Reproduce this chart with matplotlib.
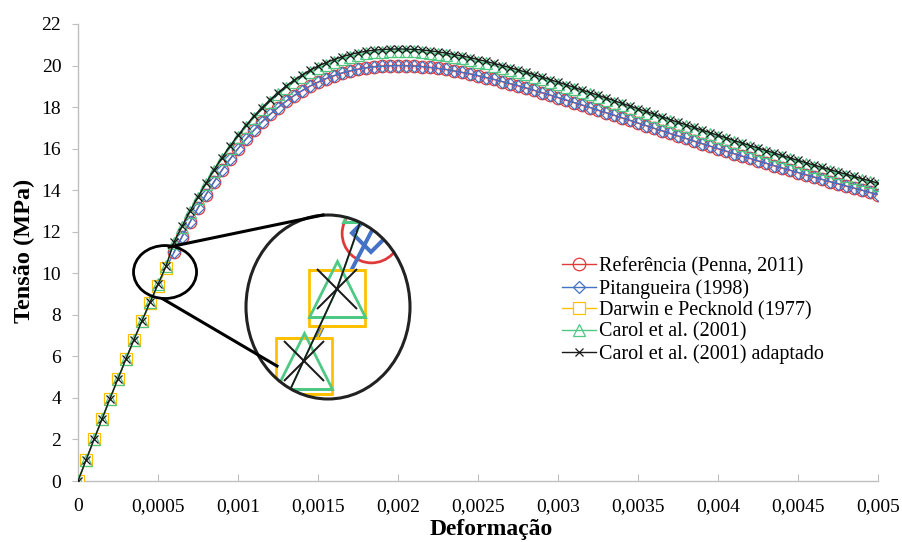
import numpy as np
import matplotlib
matplotlib.use("Agg")
import matplotlib.pyplot as plt
from matplotlib.patches import Ellipse
from matplotlib.lines import Line2D
from matplotlib.ticker import FuncFormatter

plt.rcParams["font.family"] = ["Liberation Serif", "DejaVu Serif"]

# strain step used by all series
STEP = 0.00005

# Referência (Penna, 2011): points from 0.0006 to 0.005
ref_start = 12
ref_stress = [
    11.01, 11.76, 12.47, 13.15, 13.79, 14.40, 14.97, 15.50, 16.00, 16.46,
    16.89, 17.29, 17.65, 17.98, 18.28, 18.55, 18.79, 19.01, 19.20, 19.37,
    19.51, 19.64, 19.74, 19.82, 19.89, 19.94, 19.97, 19.99, 20.00, 19.99,
    19.98, 19.95, 19.91, 19.86, 19.81, 19.74, 19.67, 19.60, 19.51, 19.42,
    19.33, 19.23, 19.13, 19.03, 18.92, 18.81, 18.69, 18.58, 18.46, 18.34,
    18.22, 18.10, 17.98, 17.85, 17.73, 17.61, 17.48, 17.36, 17.23, 17.11,
    16.98, 16.86, 16.73, 16.61, 16.49, 16.36, 16.24, 16.12, 16.00, 15.88,
    15.76, 15.64, 15.53, 15.41, 15.30, 15.18, 15.07, 14.96, 14.85, 14.74,
    14.63, 14.52, 14.41, 14.31, 14.20, 14.10, 14.00, 13.89, 13.79,
]

# Pitangueira (1998): full range 0 to 0.005
pit_stress = [
    0.00, 1.00, 2.00, 2.98, 3.96, 4.92, 5.87, 6.79, 7.69, 8.57,
    9.41, 10.23, 11.01, 11.76, 12.47, 13.15, 13.79, 14.40, 14.97, 15.50,
    16.00, 16.46, 16.89, 17.29, 17.65, 17.98, 18.28, 18.55, 18.79, 19.01,
    19.20, 19.37, 19.51, 19.64, 19.74, 19.82, 19.89, 19.94, 19.97, 19.99,
    20.00, 19.99, 19.98, 19.95, 19.91, 19.86, 19.81, 19.74, 19.67, 19.60,
    19.51, 19.42, 19.33, 19.23, 19.13, 19.03, 18.92, 18.81, 18.69, 18.58,
    18.46, 18.34, 18.22, 18.10, 17.98, 17.85, 17.73, 17.61, 17.48, 17.36,
    17.23, 17.11, 16.98, 16.86, 16.73, 16.61, 16.49, 16.36, 16.24, 16.12,
    16.00, 15.88, 15.76, 15.64, 15.53, 15.41, 15.30, 15.18, 15.07, 14.96,
    14.85, 14.74, 14.63, 14.52, 14.41, 14.31, 14.20, 14.10, 14.00, 13.89,
    13.79,
]

# Darwin e Pecknold (1977): ascending branch only
dp_stress = [0.00, 1.00, 2.00, 2.98, 3.96, 4.92, 5.87, 6.79, 7.69, 8.57, 9.41, 10.23]

# Carol et al. (2001)
carol_stress = [
    0.00, 1.00, 2.00, 2.98, 3.97, 4.93, 5.88, 6.81, 7.72, 8.60,
    9.47, 10.34, 11.48, 12.22, 12.94, 13.62, 14.28, 14.91, 15.49, 16.04,
    16.56, 17.04, 17.49, 17.89, 18.26, 18.61, 18.92, 19.20, 19.45, 19.67,
    19.87, 20.04, 20.19, 20.32, 20.43, 20.52, 20.59, 20.64, 20.67, 20.69,
    20.70, 20.69, 20.68, 20.65, 20.61, 20.56, 20.50, 20.43, 20.36, 20.28,
    20.19, 20.10, 20.00, 19.90, 19.80, 19.69, 19.59, 19.47, 19.35, 19.23,
    19.11, 18.99, 18.86, 18.73, 18.61, 18.48, 18.35, 18.22, 18.09, 17.96,
    17.83, 17.70, 17.58, 17.45, 17.32, 17.19, 17.07, 16.94, 16.81, 16.69,
    16.56, 16.44, 16.31, 16.19, 16.07, 15.95, 15.83, 15.71, 15.60, 15.48,
    15.37, 15.25, 15.14, 15.03, 14.92, 14.81, 14.70, 14.59, 14.48, 14.38,
    14.27,
]

# Carol et al. (2001) adaptado
carol_ad_stress = [
    0.00, 1.00, 2.00, 2.98, 3.97, 4.93, 5.88, 6.81, 7.72, 8.60,
    9.47, 10.34, 11.50, 12.26, 12.99, 13.68, 14.34, 14.98, 15.57, 16.12,
    16.64, 17.12, 17.57, 17.98, 18.35, 18.70, 19.01, 19.29, 19.54, 19.77,
    19.97, 20.14, 20.29, 20.42, 20.53, 20.62, 20.69, 20.74, 20.77, 20.79,
    20.80, 20.79, 20.78, 20.75, 20.71, 20.66, 20.60, 20.53, 20.46, 20.38,
    20.29, 20.20, 20.10, 20.00, 19.90, 19.79, 19.68, 19.56, 19.44, 19.32,
    19.20, 19.08, 18.95, 18.82, 18.70, 18.57, 18.44, 18.31, 18.18, 18.05,
    17.92, 17.79, 17.66, 17.53, 17.40, 17.27, 17.15, 17.02, 16.89, 16.77,
    16.64, 16.52, 16.39, 16.27, 16.15, 16.03, 15.91, 15.79, 15.67, 15.55,
    15.44, 15.32, 15.21, 15.10, 14.99, 14.88, 14.77, 14.66, 14.55, 14.45,
    14.34,
]

labels = [
    "Referência (Penna, 2011)",
    "Pitangueira (1998)",
    "Darwin e Pecknold (1977)",
    "Carol et al. (2001)",
    "Carol et al. (2001) adaptado",
]

x_ticks = [0, 0.0005, 0.001, 0.0015, 0.002, 0.0025, 0.003, 0.0035, 0.004, 0.0045, 0.005]
y_ticks = list(range(0, 23, 2))

C_RED = "#E0393A"
C_BLUE = "#4472C4"
C_GOLD = "#FFC000"
C_GREEN = "#4FC884"
C_BLACK = "#1A1A1A"


def strain_of(values, start=0):
    return (np.arange(len(values)) + start) * STEP


def draw_series(ax, scale=1.0, lw=1.0, with_labels=True, diamond_scale=None):
    s = scale
    ds = s if diamond_scale is None else diamond_scale
    ax.plot(strain_of(ref_stress, ref_start), ref_stress, color=C_RED, lw=lw,
            marker="o", ms=9 * s, mfc="none", mec=C_RED, mew=0.9 * min(s, 2.2),
            label=labels[0] if with_labels else None, zorder=2)
    ax.plot(strain_of(pit_stress), pit_stress, color=C_BLUE, lw=lw * (2.2 if s > 1 else 1.0),
            marker="D", ms=6.3 * ds, mfc="none", mec=C_BLUE, mew=0.9 * min(s, 3.2),
            label=labels[1] if with_labels else None, zorder=3)
    ax.plot(strain_of(dp_stress), dp_stress, color=C_GOLD, lw=lw,
            marker="s", ms=8.6 * s, mfc="white", mec=C_GOLD, mew=0.9 * min(s, 2.2),
            label=labels[2] if with_labels else None, zorder=4)
    ax.plot(strain_of(carol_stress), carol_stress, color=C_GREEN, lw=lw,
            marker="^", ms=8.6 * s, mfc="none", mec=C_GREEN, mew=0.9 * min(s, 2.2),
            label=labels[3] if with_labels else None, zorder=5)
    ax.plot(strain_of(carol_ad_stress), carol_ad_stress, color=C_BLACK, lw=lw,
            marker="x", ms=6.2 * s, mfc="none", mec=C_BLACK, mew=0.9 * min(s, 1.6),
            label=labels[4] if with_labels else None, zorder=6)


fig = plt.figure(figsize=(9.03, 5.42), dpi=100)
W, H = 903.0, 542.0
ax = fig.add_axes([78 / W, 1 - 481 / H, 800 / W, 457 / H])

draw_series(ax)

ax.set_xlim(0, 0.005)
ax.set_ylim(0, 22)
ax.set_xticks(x_ticks)
ax.set_yticks(y_ticks)
ax.xaxis.set_major_formatter(FuncFormatter(
    lambda v, p: "0" if v == 0 else ("%g" % v).replace(".", ",")))
for sp in ("top", "right"):
    ax.spines[sp].set_visible(False)
for sp in ("left", "bottom"):
    ax.spines[sp].set_color("#BFBFBF")
    ax.spines[sp].set_linewidth(1.0)
ax.tick_params(axis="x", direction="in", length=5, color="#BFBFBF",
               labelsize=14, pad=12)
ax.tick_params(axis="y", direction="out", length=4, color="#BFBFBF",
               labelsize=14, pad=8)

ax.set_xlabel("Deformação", fontsize=17, fontweight="bold")
ax.set_ylabel("Tensão (MPa)", fontsize=17.5, fontweight="bold")
ax.xaxis.set_label_coords(0.516, -0.084)
ax.yaxis.set_label_coords(-0.054, 0.503)

# highlight around the start of the reference data
small = Ellipse((0.000544, 10.06), 0.000394, 2.55, fill=False, ec="black",
                lw=2.0, zorder=10, clip_on=False)
ax.add_patch(small)

ax.legend(loc="upper left", bbox_to_anchor=(562 / W, 1 - 257 / H),
          bbox_transform=fig.transFigure, frameon=False, fontsize=14.5,
          handlelength=1.7, handletextpad=0.15, labelspacing=0.12,
          borderpad=0, borderaxespad=0)

# magnified view of the highlighted region
bx0, bx1, by0, by1 = 246, 410, 215, 399
ins = fig.add_axes([bx0 / W, 1 - by1 / H, (bx1 - bx0) / W, (by1 - by0) / H])
ins.set_xlim(0.000414, 0.000659)
ins.set_ylim(9.01, 11.23)
ins.axis("off")
draw_series(ins, scale=4.7, lw=1.3, with_labels=False, diamond_scale=3.0)
clip = Ellipse((0.5, 0.5), 1.0, 1.0, transform=ins.transAxes, fill=False)
ins.add_patch(clip)
clip.set_visible(False)
for art in ins.lines:
    art.set_clip_path(clip)
big = Ellipse((0.5, 0.5), 1.0, 1.0, transform=ins.transAxes, fill=False,
              ec="#222222", lw=2.2, zorder=20, clip_on=False)
ins.add_patch(big)


# connector lines between the two ellipses
def px(x, y):
    return (x / W, 1 - y / H)


for (xa, ya), (xb, yb) in [((169, 247), (323, 215)), ((163, 299), (277, 366))]:
    fig.add_artist(Line2D([px(xa, ya)[0], px(xb, yb)[0]], [px(xa, ya)[1], px(xb, yb)[1]],
                          transform=fig.transFigure, color="black", lw=2.2))

fig.savefig("out.png", dpi=100)
